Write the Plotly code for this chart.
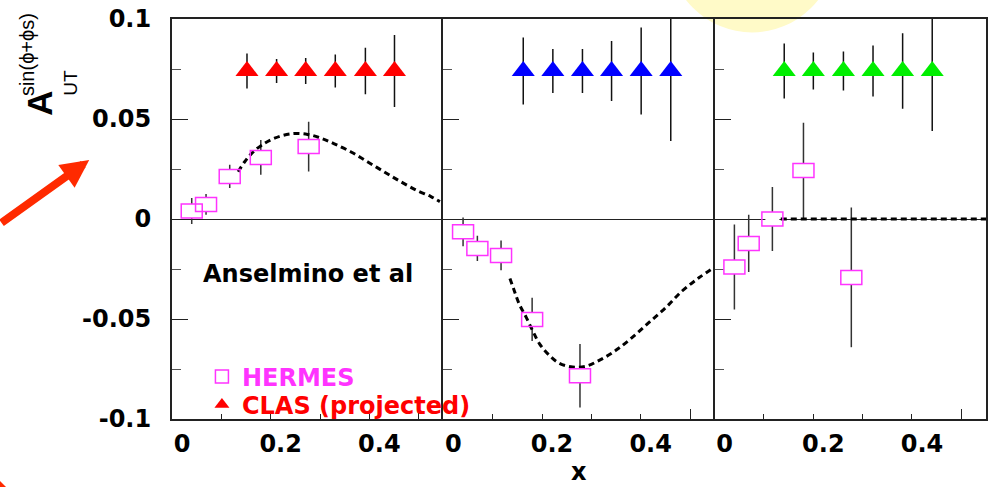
import plotly.graph_objects as go

# ---------------- data ----------------
hermes_x = [0.040, 0.069, 0.117, 0.180, 0.277]
hermes_y_1 = [0.0040, 0.0073, 0.0213, 0.0308, 0.0362]
hermes_err_1 = [0.0065, 0.0052, 0.0058, 0.0087, 0.0124]
hermes_y_2 = [-0.0064, -0.0147, -0.0182, -0.0502, -0.0784]
hermes_err_2 = [0.0072, 0.0063, 0.0074, 0.0108, 0.0159]
hermes_y_3 = [-0.0240, -0.0122, 0.0000, 0.0242, -0.0292]
hermes_err_3 = [0.0213, 0.0143, 0.0160, 0.0239, 0.0349]

clas_x_1 = [0.152, 0.212, 0.271, 0.331, 0.392, 0.451]
clas_x_2 = [0.162, 0.222, 0.282, 0.341, 0.401, 0.461]
clas_x_3 = [0.141, 0.200, 0.261, 0.321, 0.381, 0.441]
clas_y = [0.074, 0.074, 0.074, 0.074, 0.074, 0.074]
clas_err_1 = [0.0087, 0.0060, 0.0065, 0.0082, 0.0116, 0.0180]
clas_err_2 = [0.0167, 0.0110, 0.0110, 0.0150, 0.0218, 0.0350]
clas_err_3 = [0.0137, 0.0093, 0.0098, 0.0128, 0.0189, 0.0300]

curve_x_1 = [0.134, 0.147, 0.161, 0.181, 0.208, 0.242, 0.275, 0.302, 0.329,
             0.363, 0.397, 0.430, 0.464, 0.498, 0.525, 0.543]
curve_y_1 = [0.0236, 0.0285, 0.0327, 0.0368, 0.0404, 0.0426, 0.0423, 0.0404, 0.0376,
             0.0335, 0.0285, 0.0236, 0.0186, 0.0141, 0.0112, 0.0087]
curve_x_2 = [0.135, 0.144, 0.154, 0.168, 0.181, 0.195, 0.215, 0.235, 0.262,
             0.289, 0.316, 0.349, 0.383, 0.417, 0.451, 0.484, 0.518, 0.548]
curve_y_2 = [-0.0297, -0.0360, -0.0426, -0.0492, -0.0558, -0.0624, -0.0682, -0.0721, -0.0740,
             -0.0736, -0.0707, -0.0658, -0.0592, -0.0517, -0.0443, -0.0360, -0.0294, -0.0244]
curve_x_3 = [0.134, 0.550]
curve_y_3 = [0.0, 0.0]

y_tickvals = [-0.1, -0.05, 0.0, 0.05, 0.1]
y_ticktext = ["-0.1", "-0.05", "0", "0.05", "0.1"]
y_minor = [-0.075, -0.025, 0.025, 0.075]
x_tickvals = [0.0, 0.1, 0.2, 0.3, 0.4]
x_ticktext = ["0", "", "0.2", "", "0.4"]

# ---------------- layout geometry ----------------
W, H = 993, 487
ML, MR, MT, MB = 172, 5, 16, 68
PW = W - ML - MR
PH = H - MT - MB


def px_x(px):
    return (px - ML) / PW


def px_y(py):
    return (H - MB - py) / PH


FONT = "DejaVu Sans"
MAGENTA = "#ff33ff"
AX = "#222222"

panels = [
    dict(hy=hermes_y_1, he=hermes_err_1, cx=clas_x_1, ce=clas_err_1, col="#ff0000",
         kx=curve_x_1, ky=curve_y_1),
    dict(hy=hermes_y_2, he=hermes_err_2, cx=clas_x_2, ce=clas_err_2, col="#0000ff",
         kx=curve_x_2, ky=curve_y_2),
    dict(hy=hermes_y_3, he=hermes_err_3, cx=clas_x_3, ce=clas_err_3, col="#00ee00",
         kx=curve_x_3, ky=curve_y_3),
]

fig = go.Figure()
tickfont = dict(family=FONT, size=24, color="black", weight="bold")

for i, p in enumerate(panels):
    s = "" if i == 0 else str(i + 1)
    xa, ya = "x" + s, "y" + s
    # HERMES: white mask + error bars
    fig.add_trace(go.Scatter(
        x=hermes_x, y=p["hy"], mode="markers", xaxis=xa, yaxis=ya, showlegend=False,
        marker=dict(symbol="square", size=14, color="white", line=dict(width=0)),
        error_y=dict(type="data", array=p["he"], color="#333333", thickness=1.5, width=0),
    ))
    # CLAS projected
    fig.add_trace(go.Scatter(
        x=p["cx"], y=clas_y, mode="markers", xaxis=xa, yaxis=ya, showlegend=False,
        marker=dict(symbol="triangle-up", size=20, color=p["col"], line=dict(width=0)),
        error_y=dict(type="data", array=p["ce"], color="#111111", thickness=1.5, width=0),
    ))
    # theory curve
    fig.add_trace(go.Scatter(
        x=p["kx"], y=p["ky"], mode="lines", xaxis=xa, yaxis=ya, showlegend=False,
        line=dict(color="black", width=3, dash="6px,4px", shape="spline"),
    ))
    # HERMES rectangles (outline)
    for xv, yv in zip(hermes_x, p["hy"]):
        fig.add_shape(type="rect", xref=xa, yref=ya, xsizemode="pixel", ysizemode="pixel",
                      xanchor=xv, yanchor=yv, x0=-10.5, x1=10.5, y0=-7, y1=7,
                      line=dict(color=MAGENTA, width=1.5), fillcolor="rgba(0,0,0,0)",
                      layer="above")

    dom = [i / 3, (i + 1) / 3]
    fig.update_layout(**{
        "xaxis" + s: dict(
            domain=dom, range=[0, 0.55], anchor=ya,
            tickvals=x_tickvals, ticktext=x_ticktext, ticks="inside", ticklen=5,
            tickcolor=AX, tickwidth=1, showline=True, linecolor=AX, linewidth=2,
            mirror=True, showgrid=False, zeroline=False, tickfont=tickfont,
            ticklabelshift=10, ticklabelstandoff=2,
            minor=dict(tickvals=[0.5], ticks="inside", ticklen=10, tickcolor=AX),
        ),
        "yaxis" + s: dict(
            domain=[0, 1], range=[-0.1, 0.1], anchor=xa,
            tickvals=y_tickvals, ticktext=y_ticktext, ticks="inside", ticklen=16,
            tickcolor=AX, tickwidth=1, showline=True, linecolor=AX, linewidth=2,
            mirror=(i == 2), showgrid=False, zeroline=True, zerolinecolor=AX, zerolinewidth=1,
            showticklabels=(i == 0), tickfont=tickfont, ticklabelstandoff=14,
            minor=dict(tickvals=y_minor, ticks="inside", ticklen=9, tickcolor="#555555"),
        ),
    })

# legend entries (dummy traces only for the legends)
fig.add_trace(go.Scatter(
    x=[None], y=[None], mode="markers", name="HERMES", legend="legend",
    marker=dict(symbol="square-open", size=13, color=MAGENTA, line=dict(width=1.5, color=MAGENTA)),
))
fig.add_trace(go.Scatter(
    x=[None], y=[None], mode="markers", name="CLAS (projected)", legend="legend2",
    marker=dict(symbol="triangle-up", size=13, color="#ff0000"),
))

annotations = [
    dict(text="Anselmino et al", x=px_x(201), y=px_y(273), xanchor="left", yanchor="middle",
         font=dict(family=FONT, size=24, color="black", weight="bold")),
    dict(text="x", x=px_x(580), y=px_y(472), xanchor="center", yanchor="middle",
         font=dict(family=FONT, size=24, color="black", weight="bold")),
    dict(text="A", x=px_x(39), y=px_y(101), xanchor="center", yanchor="middle", textangle=-90,
         font=dict(family="Liberation Sans", size=35, color="black", weight="bold")),
    dict(text="sin(ϕ+ϕs)", x=px_x(26), y=px_y(52), xanchor="center", yanchor="middle",
         textangle=-90, font=dict(family="Liberation Sans", size=20, color="black")),
    dict(text="UT", x=px_x(70), y=px_y(80), xanchor="center", yanchor="middle", textangle=-90,
         font=dict(family="Liberation Sans", size=19, color="black")),
    # decorative slide arrow
    dict(text="", x=px_x(89), y=px_y(158), ax=-109, ay=64, showarrow=True,
         arrowhead=2, arrowsize=0.7, arrowwidth=8, arrowcolor="#ff2a00"),
]
for a in annotations:
    a.setdefault("xref", "paper")
    a.setdefault("yref", "paper")
    a.setdefault("showarrow", False)

# decorative slide elements
fig.add_shape(type="circle", xref="paper", yref="paper",
              x0=px_x(670), x1=px_x(837), y0=px_y(29.5), y1=px_y(-137.5),
              fillcolor="#fffac8", line=dict(width=0), layer="below")
fig.add_shape(type="line", xref="paper", yref="paper",
              x0=px_x(-10), y0=px_y(479), x1=px_x(30), y1=px_y(519),
              line=dict(color="#ff2a00", width=10), layer="above")

fig.update_layout(
    width=W, height=H,
    margin=dict(l=ML, r=MR, t=MT, b=MB, pad=0),
    paper_bgcolor="white", plot_bgcolor="rgba(0,0,0,0)",
    annotations=annotations,
    legend=dict(x=px_x(202), y=px_y(354), xanchor="left", yanchor="top",
                bgcolor="rgba(0,0,0,0)", borderwidth=0,
                font=dict(family=FONT, size=24, color=MAGENTA, weight="bold")),
    legend2=dict(x=px_x(202), y=px_y(382), xanchor="left", yanchor="top",
                 bgcolor="rgba(0,0,0,0)", borderwidth=0,
                 font=dict(family=FONT, size=24, color="#ff0000", weight="bold")),
)

fig.write_html("out.html")
